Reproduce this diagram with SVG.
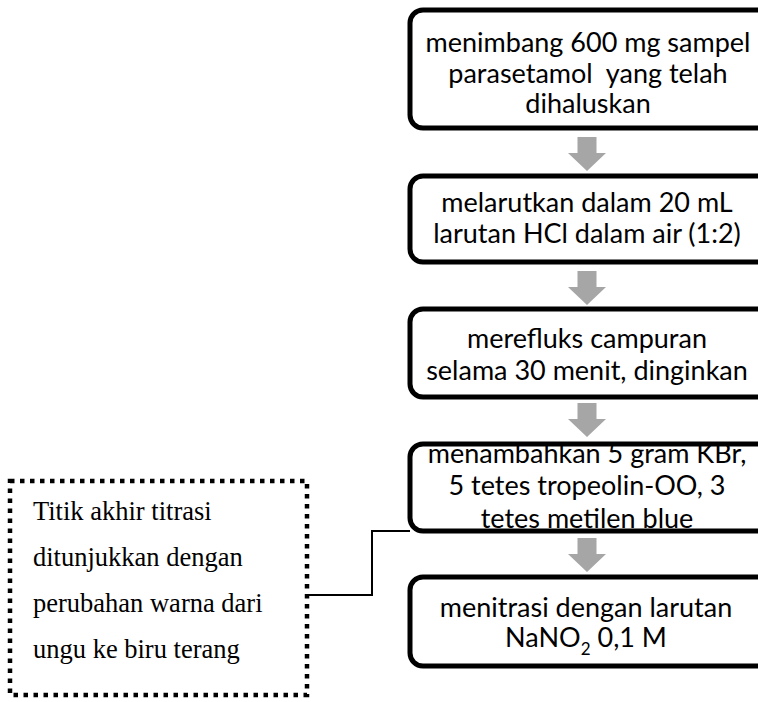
<svg xmlns="http://www.w3.org/2000/svg" width="758" height="702" viewBox="0 0 758 702">
<style>
.box{fill:#fff;stroke:#000;stroke-width:5}
.t{font-family:Lato,"Open Sans","Liberation Sans",sans-serif;font-size:27px;fill:#000;text-anchor:middle;white-space:pre}
.n{font-family:"Liberation Serif",serif;font-size:26.5px;fill:#000}
.arr{fill:#a6a6a6}
.dot{fill:#fff;stroke:#000;stroke-width:4.5;stroke-dasharray:4.5 5.5}
</style>
<defs>
<path id="ar" d="M-9.5,0 H9.5 V16 H19 L0,34 L-19,16 H-9.5 Z"/>
</defs>
<g id="connectors">
<use href="#ar" class="arr" x="587" y="137"/>
<use href="#ar" class="arr" x="587" y="271"/>
<use href="#ar" class="arr" x="587" y="403"/>
<use href="#ar" class="arr" x="587" y="538"/>
<polyline points="309,595 372,595 372,531 410,531" fill="none" stroke="#000" stroke-width="2"/>
</g>
<g id="n1">
<rect class="box" x="410" y="10" width="370" height="118" rx="13"/>
<text class="t"><tspan x="588" y="52">menimbang 600 mg sampel</tspan><tspan x="588" y="83" xml:space="preserve">parasetamol  yang telah</tspan><tspan x="588" y="113">dihaluskan</tspan></text>
</g>
<g id="n2">
<rect class="box" x="410" y="176" width="370" height="86" rx="13"/>
<text class="t"><tspan x="587" y="212">melarutkan dalam 20 mL</tspan><tspan x="587" y="243">larutan HCl dalam air (1:2)</tspan></text>
</g>
<g id="n3">
<rect class="box" x="410" y="309" width="370" height="88" rx="13"/>
<text class="t"><tspan x="587" y="348">merefluks campuran</tspan><tspan x="587" y="380">selama 30 menit, dinginkan</tspan></text>
</g>
<g id="n4">
<rect class="box" x="410" y="444" width="370" height="87" rx="13"/>
<text class="t"><tspan x="587" y="463">menambahkan 5 gram KBr,</tspan><tspan x="587" y="495">5 tetes tropeolin-OO, 3</tspan><tspan x="587" y="528">tetes metilen blue</tspan></text>
</g>
<g id="n5">
<rect class="box" x="410" y="577" width="370" height="89" rx="13"/>
<text class="t"><tspan x="586" y="617">menitrasi dengan larutan</tspan><tspan x="586" y="647">NaNO<tspan font-size="17" dy="8">2</tspan><tspan dy="-8"> 0,1 M</tspan></tspan></text>
</g>
<g id="note">
<rect class="dot" x="10" y="481" width="297" height="214"/>
<text class="n"><tspan x="33" y="520">Titik akhir titrasi</tspan><tspan x="33" y="566">ditunjukkan dengan</tspan><tspan x="33" y="612">perubahan warna dari</tspan><tspan x="33" y="658">ungu ke biru terang</tspan></text>
</g>
</svg>
